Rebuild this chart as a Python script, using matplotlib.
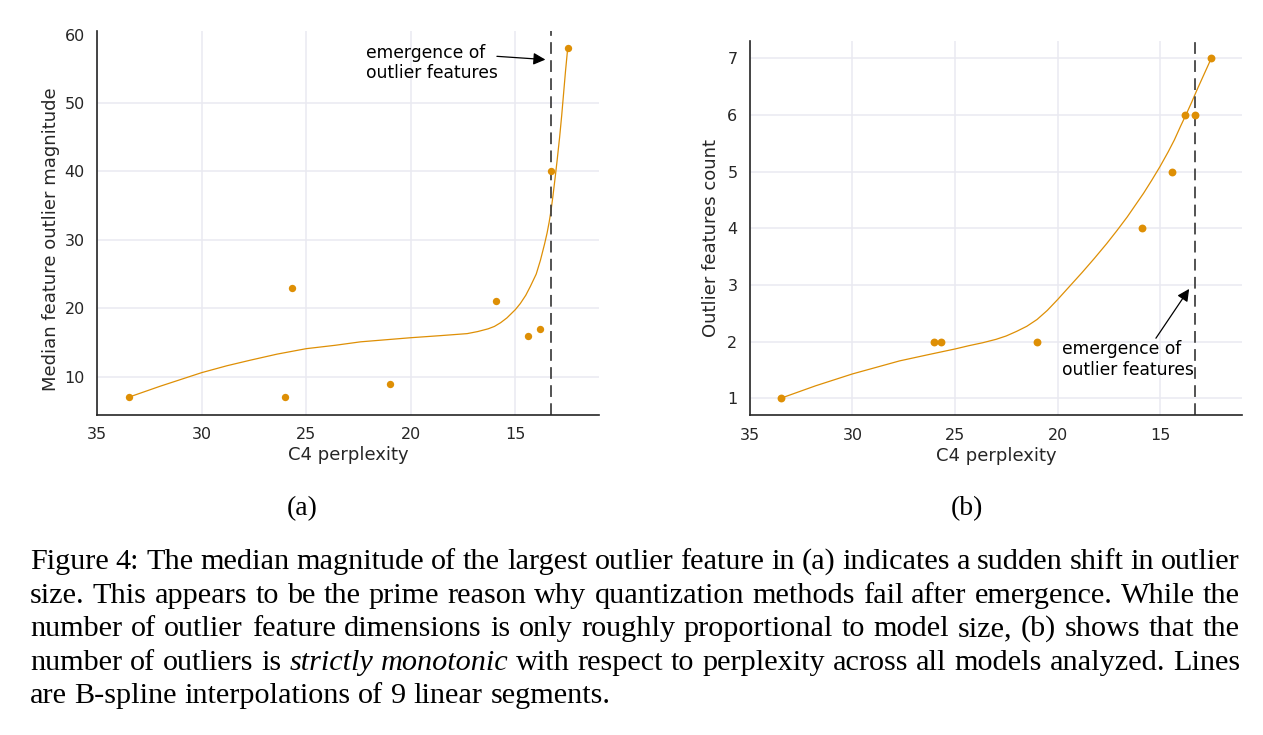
import matplotlib
matplotlib.use("Agg")
import matplotlib.pyplot as plt

# C4 perplexity of the analyzed models
ppl = [33.5, 26.0, 25.7, 21.0, 15.9, 14.4, 13.8, 13.3, 12.5]
# (a) median magnitude of the largest outlier feature
magnitude = [7, 7, 23, 9, 21, 16, 17, 40, 58]
# (b) number of outlier features
count = [1, 2, 2, 2, 4, 5, 6, 6, 7]

# spline curves
curve_a_x = [33.5, 32.0, 30.0, 28.8, 27.7, 26.4, 25.0, 23.6, 22.4, 21.2, 20.0, 18.6, 17.3, 16.8,
             16.3, 16.0, 15.7, 15.4, 15.2, 15.0, 14.76, 14.5, 14.28, 14.0, 13.8, 13.6, 13.48,
             13.38, 13.29, 13.2, 13.09, 13.0, 12.88, 12.78, 12.69, 12.6, 12.5]
curve_a_y = [7.0, 8.6, 10.6, 11.6, 12.4, 13.3, 14.1, 14.6, 15.1, 15.4, 15.7, 16.0, 16.3, 16.6,
             17.0, 17.35, 17.9, 18.6, 19.2, 19.8, 20.7, 21.9, 23.2, 25.0, 27.0, 29.4, 31.0,
             32.6, 34.3, 36.4, 39.2, 41.6, 45.0, 48.2, 51.4, 54.6, 57.8]
curve_b_x = [33.5, 31.8, 30.0, 28.8, 27.7, 26.3, 25.0, 24.3, 23.65, 23.0, 22.5, 22.0, 21.5,
             21.0, 20.5, 20.0, 19.4, 18.8, 18.2, 17.6, 17.1, 16.6, 16.2, 15.8, 15.4, 15.0, 14.6,
             14.3, 14.0, 13.7, 13.45, 13.2, 13.0, 12.8, 12.65, 12.5]
curve_b_y = [1.0, 1.22, 1.43, 1.55, 1.66, 1.77, 1.87, 1.93, 1.98, 2.04, 2.10, 2.18, 2.27,
             2.39, 2.55, 2.74, 2.98, 3.22, 3.47, 3.73, 3.96, 4.20, 4.41, 4.62, 4.85, 5.09, 5.35,
             5.56, 5.80, 6.03, 6.23, 6.44, 6.60, 6.76, 6.88, 7.0]

emergence = 13.3

orange = '#de8f05'
dark = '#262626'
W, H = 1263, 735

fig = plt.figure(figsize=(W / 100, H / 100), dpi=100)
ax_a = fig.add_axes([0.0770, 0.4358, 0.3972, 0.5222])
ax_b = fig.add_axes([0.5938, 0.4350, 0.3896, 0.5088])


def style(ax):
    ax.grid(True, color='#e9e9f1', lw=1.1)
    ax.set_axisbelow(True)
    for s in ['top', 'right']:
        ax.spines[s].set_visible(False)
    for s in ['left', 'bottom']:
        ax.spines[s].set_color(dark)
        ax.spines[s].set_linewidth(1.2)
    ax.tick_params(length=0, labelsize=11.5, colors=dark)
    ax.tick_params(axis='y', pad=9)
    ax.tick_params(axis='x', pad=9)
    ax.set_xlim(35, 11)
    ax.set_xticks([35, 30, 25, 20, 15])
    ax.set_xlabel('C4 perplexity', fontsize=13, color=dark, labelpad=3)


arrow = dict(arrowstyle='-|>', color='black', lw=0.9, mutation_scale=18, shrinkA=0, shrinkB=0)

# (a)
ax_a.plot(curve_a_x, curve_a_y, color=orange, lw=0.9)
ax_a.scatter(ppl, magnitude, s=28, color=orange, zorder=3, linewidths=0)
ax_a.axvline(emergence, color='#444444', lw=1.3, dashes=(6.5, 3.5))
style(ax_a)
ax_a.set_ylim(4.45, 60.55)
ax_a.set_yticks([10, 20, 30, 40, 50, 60])
ax_a.get_ygridlines()[-1].set_visible(False)
ax_a.set_ylabel('Median feature outlier magnitude', fontsize=13, color=dark)
ax_a.yaxis.set_label_coords(-0.074, 0.458)
ax_a.text(22.13, 58.6, 'emergence of\noutlier features', fontsize=12.3, ha='left', va='top',
          linespacing=1.15)
ax_a.annotate('', xy=(13.56, 56.35), xytext=(15.88, 56.83), arrowprops=arrow)

# (b)
ax_b.plot(curve_b_x, curve_b_y, color=orange, lw=0.9)
ax_b.scatter(ppl, count, s=32, color=orange, zorder=3, linewidths=0)
ax_b.axvline(emergence, color='#444444', lw=1.3, dashes=(6.5, 3.5))
style(ax_b)
ax_b.set_ylim(0.7, 7.3)
ax_b.set_yticks([1, 2, 3, 4, 5, 6, 7])
ax_b.set_ylabel('Outlier features count', fontsize=13, color=dark)
ax_b.yaxis.set_label_coords(-0.061, 0.474)
ax_b.text(19.77, 2.02, 'emergence of\noutlier features', fontsize=12.3, ha='left', va='top',
          linespacing=1.15)
ax_b.annotate('', xy=(13.58, 2.93), xytext=(15.2, 2.06), arrowprops=arrow)

# sub captions and figure caption
serif = 'Liberation Serif'
fig.text(302 / W, 1 - 509 / H, '(a)', fontsize=20, family=serif, ha='center', va='center')
fig.text(967 / W, 1 - 509 / H, '(b)', fontsize=20, family=serif, ha='center', va='center')

caption = [
    "Figure 4: The median magnitude of the largest outlier feature in (a) indicates a sudden shift in outlier",
    "size. This appears to be the prime reason why quantization methods fail after emergence. While the",
    "number of outlier feature dimensions is only roughly proportional to model size, (b) shows that the",
    "number of outliers is _strictly _monotonic with respect to perplexity across all models analyzed. Lines",
    "are B-spline interpolations of 9 linear segments.",
]
baselines = [569, 603, 636, 670, 703]
x0, x1 = 30, 1240
cap_fs = 21.8

renderer = fig.canvas.get_renderer()
space = 0.25 * cap_fs * 100 / 72
for i, (line, yb) in enumerate(zip(caption, baselines)):
    texts = []
    for w in line.split(' '):
        st = 'normal'
        if w.startswith('_'):
            w, st = w[1:], 'italic'
        texts.append(fig.text(0, 1 - yb / H, w, fontsize=cap_fs, family=serif, style=st,
                              va='baseline', ha='left'))
    widths = [t.get_window_extent(renderer).width for t in texts]
    if i < len(caption) - 1:
        gap = (x1 - x0 - sum(widths)) / (len(texts) - 1)
    else:
        gap = space
    x = x0
    for t, w in zip(texts, widths):
        t.set_x(x / W)
        x += w + gap

fig.savefig('out.png', dpi=100)
